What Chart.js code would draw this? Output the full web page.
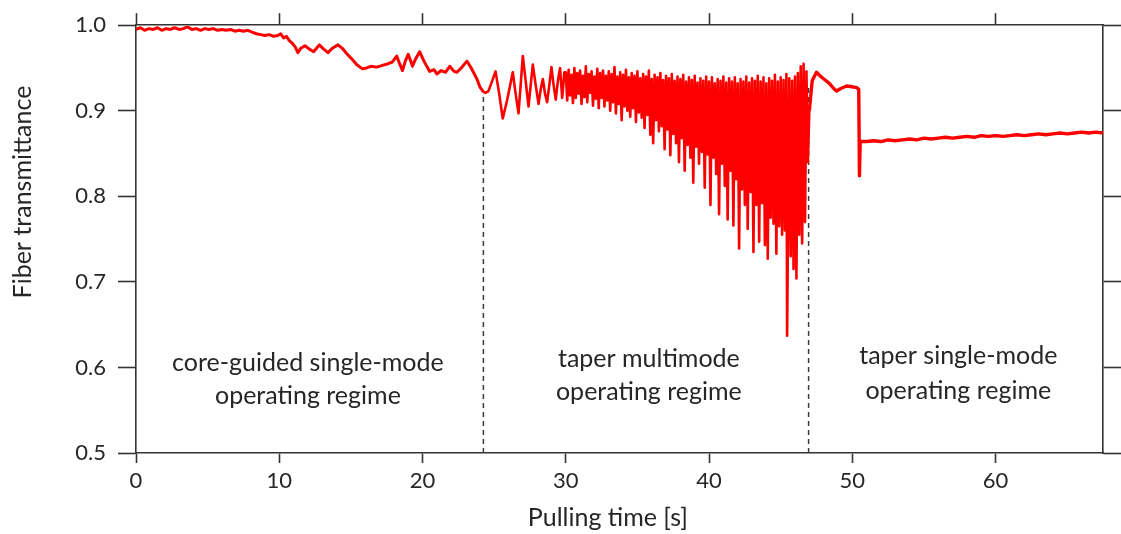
<!DOCTYPE html>
<html>
<head>
<meta charset="utf-8">
<script src="https://cdn.jsdelivr.net/npm/chart.js@4.4.1/dist/chart.umd.min.js"></script>
<style>
html,body{margin:0;padding:0;background:#fff;}
#wrap{width:1121px;height:534px;}
</style>
</head>
<body>
<div id="wrap"><canvas id="c" width="1121" height="534"></canvas></div>
<script>
// [time s, transmittance]
const coreGuided = [
[0.0,0.995],[0.3,0.997],[0.6,0.994],[0.9,0.996],[1.2,0.995],[1.5,0.997],[1.8,0.994],[2.1,0.996],
[2.4,0.995],[2.7,0.997],[3.0,0.995],[3.3,0.996],[3.6,0.998],[3.9,0.995],[4.2,0.996],[4.5,0.994],
[4.8,0.996],[5.1,0.995],[5.4,0.996],[5.7,0.994],[6.0,0.995],[6.3,0.994],[6.6,0.995],[6.9,0.993],
[7.2,0.994],[7.5,0.993],[7.8,0.994],[8.1,0.992],[8.4,0.990],[8.7,0.989],[9.0,0.988],[9.3,0.989],
[9.6,0.987],[9.9,0.988],[10.1,0.990],[10.3,0.985],[10.5,0.987],[10.7,0.982],[10.9,0.979],[11.1,0.975],
[11.3,0.968],[11.5,0.973],[11.8,0.976],[12.1,0.972],[12.4,0.969],[12.6,0.973],[12.8,0.977],[13.1,0.972],
[13.4,0.968],[13.7,0.973],[14.1,0.977],[14.4,0.973],[14.7,0.967],[15.1,0.960],[15.4,0.954],[15.8,0.949],
[16.1,0.950],[16.4,0.952],[16.8,0.951],[17.2,0.953],[17.6,0.955],[17.9,0.957],[18.2,0.964],[18.4,0.955],
[18.6,0.947],[18.8,0.958],[19.0,0.966],[19.2,0.957],[19.3,0.952],[19.5,0.960],[19.8,0.969],[20.1,0.958],
[20.5,0.946],[20.8,0.948],[21.0,0.943],[21.3,0.947],[21.6,0.945],[21.9,0.952],[22.2,0.946],[22.4,0.945],
[22.7,0.950],[23.1,0.958],[23.4,0.950],[23.8,0.937],[24.0,0.928],[24.25,0.922]
];
const taperMultimode = [
[24.25,0.922],[24.4,0.921],[24.6,0.923],[24.8,0.932],[25.1,0.946],[25.35,0.920],[25.6,0.891],[25.9,0.912],
[26.3,0.945],[26.5,0.920],[26.7,0.897],[26.85,0.930],[27.0,0.964],[27.2,0.935],[27.4,0.905],[27.55,0.930],
[27.7,0.954],[27.9,0.930],[28.1,0.908],[28.25,0.925],[28.4,0.937],[28.55,0.920],[28.7,0.910],[28.85,0.930],
[29.0,0.951],[29.15,0.930],[29.3,0.913],[29.45,0.935],[29.6,0.950],[29.75,0.915],[29.9,0.945],
[30.0,0.945],[30.1,0.912],[30.2,0.948],[30.3,0.918],[30.4,0.942],[30.5,0.909],[30.6,0.950],[30.7,0.915],
[30.8,0.944],[30.9,0.920],[31.0,0.947],[31.1,0.908],[31.2,0.941],[31.3,0.916],[31.4,0.952],[31.5,0.910],
[31.6,0.943],[31.7,0.921],[31.8,0.946],[31.9,0.906],[32.0,0.940],[32.1,0.914],[32.2,0.949],[32.3,0.903],
[32.4,0.944],[32.5,0.915],[32.6,0.947],[32.7,0.905],[32.8,0.941],[32.9,0.912],[33.0,0.946],[33.1,0.900],
[33.2,0.943],[33.3,0.910],[33.4,0.951],[33.5,0.897],[33.6,0.940],[33.7,0.908],[33.8,0.945],[33.9,0.889],
[34.0,0.942],[34.1,0.905],[34.2,0.948],[34.3,0.900],[34.4,0.939],[34.5,0.893],[34.6,0.944],[34.7,0.903],
[34.8,0.941],[34.9,0.887],[35.0,0.946],[35.1,0.898],[35.2,0.938],[35.3,0.892],[35.4,0.943],[35.5,0.880],
[35.6,0.940],[35.7,0.895],[35.8,0.947],[35.9,0.872],[36.0,0.937],[36.1,0.862],[36.2,0.942],[36.3,0.889],
[36.4,0.939],[36.5,0.876],[36.6,0.944],[36.7,0.882],[36.8,0.936],[36.9,0.855],[37.0,0.941],[37.1,0.878],
[37.2,0.938],[37.3,0.848],[37.4,0.943],[37.5,0.873],[37.6,0.935],[37.7,0.862],[37.8,0.940],[37.9,0.840],
[38.0,0.937],[38.1,0.868],[38.2,0.942],[38.3,0.830],[38.4,0.934],[38.5,0.860],[38.6,0.939],[38.7,0.845],
[38.8,0.936],[38.9,0.816],[39.0,0.941],[39.1,0.858],[39.2,0.933],[39.3,0.838],[39.4,0.938],[39.5,0.852],
[39.6,0.935],[39.7,0.810],[39.8,0.940],[39.9,0.849],[40.0,0.934],[40.1,0.790],[40.2,0.939],[40.3,0.845],
[40.4,0.932],[40.5,0.826],[40.6,0.937],[40.7,0.779],[40.8,0.935],[40.9,0.838],[41.0,0.940],[41.1,0.812],
[41.2,0.933],[41.3,0.773],[41.4,0.938],[41.5,0.830],[41.6,0.934],[41.7,0.766],[41.8,0.939],[41.9,0.820],
[42.0,0.932],[42.1,0.739],[42.2,0.937],[42.3,0.808],[42.4,0.934],[42.5,0.790],[42.6,0.940],[42.7,0.762],
[42.8,0.933],[42.9,0.805],[43.0,0.938],[43.1,0.735],[43.2,0.935],[43.3,0.790],[43.4,0.941],[43.5,0.747],
[43.6,0.934],[43.7,0.792],[43.8,0.939],[43.9,0.743],[44.0,0.932],[44.1,0.727],[44.2,0.938],[44.3,0.775],
[44.4,0.935],[44.5,0.768],[44.6,0.942],[44.7,0.733],[44.8,0.934],[44.9,0.765],[45.0,0.939],[45.1,0.755],
[45.2,0.936],[45.3,0.760],[45.4,0.943],[45.45,0.637],[45.6,0.938],[45.7,0.730],[45.8,0.935],[45.9,0.715],
[46.0,0.940],[46.1,0.704],[46.2,0.944],[46.3,0.755],[46.4,0.952],[46.5,0.745],[46.6,0.955],[46.7,0.770],
[46.8,0.946],[46.9,0.840],[47.0,0.900]
];
const taperSingle = [
[47.0,0.900],[47.2,0.935],[47.5,0.945],[47.8,0.940],[48.1,0.936],[48.4,0.932],[48.7,0.926],[48.9,0.923],
[49.2,0.926],[49.6,0.929],[50.0,0.928],[50.3,0.927],[50.45,0.925],[50.5,0.824],[50.55,0.864],[51.0,0.864],
[51.5,0.865],[52.0,0.864],[52.5,0.866],[53.0,0.865],[53.5,0.866],[54.0,0.867],[54.5,0.866],[55.0,0.868],
[55.5,0.867],[56.0,0.868],[56.5,0.869],[57.0,0.868],[57.5,0.869],[58.0,0.870],[58.5,0.869],[59.0,0.871],
[59.5,0.870],[60.0,0.871],[60.5,0.870],[61.0,0.871],[61.5,0.872],[62.0,0.871],[62.5,0.872],[63.0,0.873],
[63.5,0.872],[64.0,0.873],[64.5,0.874],[65.0,0.873],[65.5,0.874],[66.0,0.875],[66.5,0.874],[67.0,0.875],
[67.5,0.874]
];
// regime boundaries: [time, top of dashed line]
const boundaries = [[24.25,0.922],[46.95,0.93]];
// regime labels
const regimeLines = [
  ["core-guided single-mode","operating regime"],
  ["taper multimode","operating regime"],
  ["taper single-mode","operating regime"]
];
const regimeX = [12.0, 35.8, 57.4];
const regimeY = [[0.605,0.567],[0.610,0.571],[0.613,0.573]];
const xTickStep = 10, yTickStep = 0.1;
const xTitle = 'Pulling time [s]', yTitle = 'Fiber transmittance';

const RED = 'rgb(252,0,0)';
const INK = '#262626';
const AX = '#333333';
const FONT = 'Lato, "Open Sans", sans-serif';
const toXY = a => a.map(p => ({x:p[0], y:p[1]}));

const datasets = boundaries.map(b => ({
  data: toXY([[b[0],0.5],[b[0],b[1]]]),
  borderColor:'#3c3c3c', borderWidth:1.5, borderDash:[5,4], pointRadius:0, order:5
}));
datasets.push({data:toXY(coreGuided), borderColor:RED, borderWidth:3, pointRadius:0, borderJoinStyle:'round', order:1});
datasets.push({data:toXY(taperMultimode), borderColor:RED, borderWidth:2.6, pointRadius:0, borderJoinStyle:'round', order:1});
datasets.push({data:toXY(taperSingle), borderColor:RED, borderWidth:3.4, pointRadius:0, borderJoinStyle:'round', order:1});

const labelPlugin = {
  id:'regimes',
  afterDatasetsDraw(chart){
    const {ctx, scales:{x,y}, chartArea:ca} = chart;
    ctx.save();
    ctx.fillStyle = INK;
    ctx.textAlign = 'center';
    ctx.textBaseline = 'middle';
    ctx.font = '25px ' + FONT;
    regimeLines.forEach((lines,i) => {
      lines.forEach((t,j) => ctx.fillText(t, x.getPixelForValue(regimeX[i]), y.getPixelForValue(regimeY[i][j])));
    });
    // axis titles
    ctx.fillText(xTitle, ca.left + (ca.right - ca.left) * 0.488, 518);
    ctx.translate(23, ca.top + (ca.bottom - ca.top) * 0.39);
    ctx.rotate(-Math.PI/2);
    ctx.fillText(yTitle, 0, 0);
    ctx.restore();
  }
};

const gridCommon = (len) => ({drawOnChartArea:false, drawTicks:true, tickLength:len, tickColor:AX, tickWidth:1.6});
const borderCommon = {display:true, color:AX, width:1.6};

new Chart(document.getElementById('c'), {
  type:'line',
  data:{datasets},
  options:{
    responsive:false, animation:false, devicePixelRatio:1,
    layout:{padding:{top:0,right:0,bottom:0,left:0}},
    plugins:{legend:{display:false}, tooltip:{enabled:false}},
    scales:{
      x:{type:'linear', position:'bottom', min:0, max:67.5,
        ticks:{stepSize:xTickStep, includeBounds:false, color:INK, font:{family:FONT,size:22}, padding:5, maxRotation:0},
        grid:gridCommon(10), border:borderCommon,
        afterFit(s){ s.height = 81; }
      },
      x2:{type:'linear', position:'top', min:0, max:67.5,
        ticks:{stepSize:xTickStep, includeBounds:false, display:false},
        grid:gridCommon(12), border:borderCommon,
        afterFit(s){ s.height = 20.5; }
      },
      y:{type:'linear', position:'left', min:0.5, max:1.0,
        ticks:{stepSize:yTickStep, includeBounds:false, color:INK, font:{family:FONT,size:22}, padding:12,
          callback:v => Number(v).toFixed(1)},
        grid:gridCommon(18), border:borderCommon,
        afterFit(s){ s.width = 136; }
      },
      y2:{type:'linear', position:'right', min:0.5, max:1.0,
        ticks:{stepSize:yTickStep, includeBounds:false, display:false},
        grid:gridCommon(18), border:borderCommon,
        afterFit(s){ s.width = 18; }
      }
    }
  },
  plugins:[labelPlugin]
});
</script>
</body>
</html>
